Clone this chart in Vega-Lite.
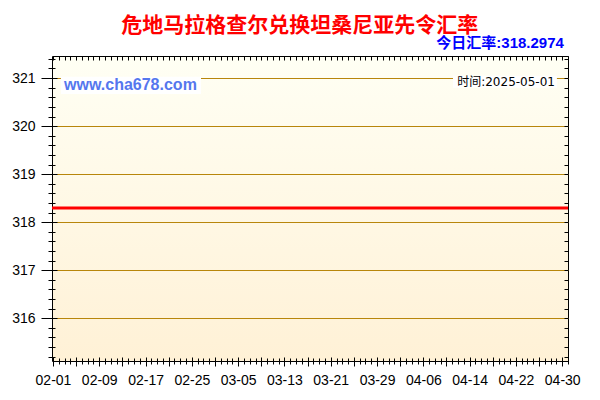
{
  "$schema": "https://vega.github.io/schema/vega-lite/v6.json",
  "width": 516,
  "height": 305,
  "autosize": {"type": "none"},
  "padding": {"left": 52, "top": 56, "right": 32, "bottom": 39},
  "background": "white",
  "data": {
    "values": [
      {"date": "2025-01-31", "rate": 318.2974},
      {"date": "2025-02-01", "rate": 318.2974},
      {"date": "2025-02-02", "rate": 318.2974},
      {"date": "2025-02-03", "rate": 318.2974},
      {"date": "2025-02-04", "rate": 318.2974},
      {"date": "2025-02-05", "rate": 318.2974},
      {"date": "2025-02-06", "rate": 318.2974},
      {"date": "2025-02-07", "rate": 318.2974},
      {"date": "2025-02-08", "rate": 318.2974},
      {"date": "2025-02-09", "rate": 318.2974},
      {"date": "2025-02-10", "rate": 318.2974},
      {"date": "2025-02-11", "rate": 318.2974},
      {"date": "2025-02-12", "rate": 318.2974},
      {"date": "2025-02-13", "rate": 318.2974},
      {"date": "2025-02-14", "rate": 318.2974},
      {"date": "2025-02-15", "rate": 318.2974},
      {"date": "2025-02-16", "rate": 318.2974},
      {"date": "2025-02-17", "rate": 318.2974},
      {"date": "2025-02-18", "rate": 318.2974},
      {"date": "2025-02-19", "rate": 318.2974},
      {"date": "2025-02-20", "rate": 318.2974},
      {"date": "2025-02-21", "rate": 318.2974},
      {"date": "2025-02-22", "rate": 318.2974},
      {"date": "2025-02-23", "rate": 318.2974},
      {"date": "2025-02-24", "rate": 318.2974},
      {"date": "2025-02-25", "rate": 318.2974},
      {"date": "2025-02-26", "rate": 318.2974},
      {"date": "2025-02-27", "rate": 318.2974},
      {"date": "2025-02-28", "rate": 318.2974},
      {"date": "2025-03-01", "rate": 318.2974},
      {"date": "2025-03-02", "rate": 318.2974},
      {"date": "2025-03-03", "rate": 318.2974},
      {"date": "2025-03-04", "rate": 318.2974},
      {"date": "2025-03-05", "rate": 318.2974},
      {"date": "2025-03-06", "rate": 318.2974},
      {"date": "2025-03-07", "rate": 318.2974},
      {"date": "2025-03-08", "rate": 318.2974},
      {"date": "2025-03-09", "rate": 318.2974},
      {"date": "2025-03-10", "rate": 318.2974},
      {"date": "2025-03-11", "rate": 318.2974},
      {"date": "2025-03-12", "rate": 318.2974},
      {"date": "2025-03-13", "rate": 318.2974},
      {"date": "2025-03-14", "rate": 318.2974},
      {"date": "2025-03-15", "rate": 318.2974},
      {"date": "2025-03-16", "rate": 318.2974},
      {"date": "2025-03-17", "rate": 318.2974},
      {"date": "2025-03-18", "rate": 318.2974},
      {"date": "2025-03-19", "rate": 318.2974},
      {"date": "2025-03-20", "rate": 318.2974},
      {"date": "2025-03-21", "rate": 318.2974},
      {"date": "2025-03-22", "rate": 318.2974},
      {"date": "2025-03-23", "rate": 318.2974},
      {"date": "2025-03-24", "rate": 318.2974},
      {"date": "2025-03-25", "rate": 318.2974},
      {"date": "2025-03-26", "rate": 318.2974},
      {"date": "2025-03-27", "rate": 318.2974},
      {"date": "2025-03-28", "rate": 318.2974},
      {"date": "2025-03-29", "rate": 318.2974},
      {"date": "2025-03-30", "rate": 318.2974},
      {"date": "2025-03-31", "rate": 318.2974},
      {"date": "2025-04-01", "rate": 318.2974},
      {"date": "2025-04-02", "rate": 318.2974},
      {"date": "2025-04-03", "rate": 318.2974},
      {"date": "2025-04-04", "rate": 318.2974},
      {"date": "2025-04-05", "rate": 318.2974},
      {"date": "2025-04-06", "rate": 318.2974},
      {"date": "2025-04-07", "rate": 318.2974},
      {"date": "2025-04-08", "rate": 318.2974},
      {"date": "2025-04-09", "rate": 318.2974},
      {"date": "2025-04-10", "rate": 318.2974},
      {"date": "2025-04-11", "rate": 318.2974},
      {"date": "2025-04-12", "rate": 318.2974},
      {"date": "2025-04-13", "rate": 318.2974},
      {"date": "2025-04-14", "rate": 318.2974},
      {"date": "2025-04-15", "rate": 318.2974},
      {"date": "2025-04-16", "rate": 318.2974},
      {"date": "2025-04-17", "rate": 318.2974},
      {"date": "2025-04-18", "rate": 318.2974},
      {"date": "2025-04-19", "rate": 318.2974},
      {"date": "2025-04-20", "rate": 318.2974},
      {"date": "2025-04-21", "rate": 318.2974},
      {"date": "2025-04-22", "rate": 318.2974},
      {"date": "2025-04-23", "rate": 318.2974},
      {"date": "2025-04-24", "rate": 318.2974},
      {"date": "2025-04-25", "rate": 318.2974},
      {"date": "2025-04-26", "rate": 318.2974},
      {"date": "2025-04-27", "rate": 318.2974},
      {"date": "2025-04-28", "rate": 318.2974},
      {"date": "2025-04-29", "rate": 318.2974},
      {"date": "2025-04-30", "rate": 318.2974},
      {"date": "2025-05-01", "rate": 318.2974}
    ]
  },
  "layer": [
    {
      "mark": {"type": "line", "strokeOpacity": 0},
      "encoding": {
        "x": {
          "field": "date", "type": "temporal",
          "scale": {"type": "utc", "domain": [1738353600000, 1746057600000], "nice": false},
          "axis": null
        },
        "y": {
          "field": "rate", "type": "quantitative",
          "scale": {"domain": [315.11, 321.46], "zero": false, "nice": false},
          "axis": {
            "orient": "left", "values": [316, 317, 318, 319, 320, 321],
            "grid": true, "gridColor": "#B8860B", "gridWidth": 1,
            "ticks": false, "labels": false, "domain": false, "title": null, "zindex": 0
          }
        }
      }
    },
    {
      "mark": {"type": "line", "color": "#FF0000", "strokeWidth": 3, "clip": true},
      "encoding": {
        "x": {
          "field": "date", "type": "temporal",
          "scale": {"type": "utc", "domain": [1738353600000, 1746057600000], "nice": false},
          "axis": {
            "orient": "bottom", "title": null, "grid": false, "domain": false,
            "values": [1738368000000, 1738713600000, 1739059200000, 1739404800000, 1739750400000, 1740096000000, 1740441600000, 1740787200000, 1741132800000, 1741478400000, 1741824000000, 1742169600000, 1742515200000, 1742860800000, 1743206400000, 1743552000000, 1743897600000, 1744243200000, 1744588800000, 1744934400000, 1745280000000, 1745625600000, 1745971200000],
            "labelExpr": "(datum.value - 1738368000000) % 691200000 === 0 ? utcFormat(datum.value, '%m-%d') : ''",
            "offset": -4, "tickSize": 9, "tickColor": "#000", "labelPadding": 7,
            "labelFont": "Liberation Sans", "labelFontSize": 14, "labelColor": "#000",
            "labelOverlap": false, "labelFlush": false, "zindex": 1
          }
        },
        "y": {
          "field": "rate", "type": "quantitative",
          "scale": {"domain": [315.11, 321.46], "zero": false, "nice": false},
          "axis": {
            "orient": "left", "title": null, "grid": false, "domain": false,
            "values": [316, 317, 318, 319, 320, 321],
            "offset": -5, "tickSize": 16, "tickColor": "#000", "labelPadding": 6,
            "labelFont": "Liberation Sans", "labelFontSize": 14, "labelColor": "#000",
            "zindex": 1
          }
        }
      }
    },
    {
      "mark": {"type": "line", "strokeOpacity": 0},
      "encoding": {
        "x": {
          "field": "date", "type": "temporal",
          "scale": {"type": "utc", "domain": [1738353600000, 1746057600000], "nice": false},
          "axis": {
            "orient": "bottom", "title": null, "grid": false, "domain": false, "labels": false,
            "tickCount": {"interval": "day", "step": 1},
            "offset": -3, "tickSize": 6, "tickColor": "#000", "zindex": 1
          }
        },
        "y": {
          "field": "rate", "type": "quantitative",
          "scale": {"domain": [315.11, 321.46], "zero": false, "nice": false},
          "axis": {
            "orient": "left", "title": null, "grid": false, "domain": false, "labels": false,
            "values": [315.2, 315.4, 315.6, 315.8, 316, 316.2, 316.4, 316.6, 316.8, 317, 317.2, 317.4, 317.6, 317.8, 318, 318.2, 318.4, 318.6, 318.8, 319, 319.2, 319.4, 319.6, 319.8, 320, 320.2, 320.4, 320.6, 320.8, 321, 321.2, 321.4],
            "offset": -3, "tickSize": 7, "tickColor": "#000", "zindex": 1
          }
        }
      }
    },
    {
      "mark": {"type": "line", "strokeOpacity": 0},
      "encoding": {
        "x": {
          "field": "date", "type": "temporal",
          "scale": {"type": "utc", "domain": [1738353600000, 1746057600000], "nice": false},
          "axis": {
            "orient": "top", "title": null, "grid": false, "domain": false, "labels": false,
            "tickCount": {"interval": "day", "step": 1},
            "offset": -4, "tickSize": 4, "tickColor": "#000", "zindex": 1
          }
        },
        "y": {
          "field": "rate", "type": "quantitative",
          "scale": {"domain": [315.11, 321.46], "zero": false, "nice": false},
          "axis": {
            "orient": "right", "title": null, "grid": false, "domain": false, "labels": false,
            "values": [315.2, 315.4, 315.6, 315.8, 316, 316.2, 316.4, 316.6, 316.8, 317, 317.2, 317.4, 317.6, 317.8, 318, 318.2, 318.4, 318.6, 318.8, 319, 319.2, 319.4, 319.6, 319.8, 320, 320.2, 320.4, 320.6, 320.8, 321, 321.2, 321.4],
            "offset": -4, "tickSize": 4, "tickColor": "#000", "zindex": 1
          }
        }
      }
    },
    {
      "data": {"values": [{}]},
      "mark": {"type": "rect", "fill": "white"},
      "encoding": {
        "x": {"datum": {"year": 2025, "month": 2, "date": 2, "hours": 9, "utc": true}, "type": "temporal", "axis": null},
        "x2": {"datum": {"year": 2025, "month": 2, "date": 26, "hours": 14, "utc": true}},
        "y": {"datum": 321.03, "type": "quantitative", "axis": null},
        "y2": {"datum": 320.67}
      }
    },
    {
      "data": {"values": [{}]},
      "mark": {"type": "rect", "fill": "white"},
      "encoding": {
        "x": {"datum": {"year": 2025, "month": 4, "date": 11, "hours": 3, "utc": true}, "type": "temporal", "axis": null},
        "x2": {"datum": {"year": 2025, "month": 4, "date": 29, "hours": 2, "utc": true}},
        "y": {"datum": 321.05, "type": "quantitative", "axis": null},
        "y2": {"datum": 320.8}
      }
    },
    {
      "data": {"values": [{}]},
      "mark": {"type": "text", "text": "www.cha678.com", "font": "Liberation Sans", "fontSize": 16, "fontWeight": "bold", "color": "#5577EE", "align": "left", "baseline": "alphabetic"},
      "encoding": {
        "x": {"datum": {"year": 2025, "month": 2, "date": 2, "hours": 22, "utc": true}, "type": "temporal", "axis": null},
        "y": {"datum": 320.756, "type": "quantitative", "axis": null}
      }
    },
    {
      "data": {"values": [{}]},
      "mark": {"type": "text", "text": "时间:2025-05-01", "font": "DejaVu Sans, Noto Sans CJK SC", "fontSize": 12, "color": "#000", "align": "right", "baseline": "alphabetic"},
      "encoding": {
        "x": {"datum": {"year": 2025, "month": 4, "date": 28, "hours": 18, "utc": true}, "type": "temporal", "axis": null},
        "y": {"datum": 320.84, "type": "quantitative", "axis": null}
      }
    },
    {
      "data": {"values": [{}]},
      "mark": {"type": "text", "text": "今日汇率:318.2974", "font": "Liberation Sans, Noto Sans CJK SC", "fontSize": 15, "fontWeight": "bold", "color": "#0000FF", "align": "right", "baseline": "alphabetic"},
      "encoding": {
        "x": {"datum": {"year": 2025, "month": 4, "date": 30, "hours": 7, "utc": true}, "type": "temporal", "axis": null},
        "y": {"datum": 321.63, "type": "quantitative", "axis": null}
      }
    },
    {
      "data": {"values": [{}]},
      "mark": {"type": "text", "text": "危地马拉格查尔兑换坦桑尼亚先令汇率", "font": "Noto Sans CJK SC", "fontSize": 21, "fontWeight": "bold", "color": "#FF0000", "align": "center", "baseline": "alphabetic"},
      "encoding": {
        "x": {"datum": {"year": 2025, "month": 3, "date": 15, "hours": 16, "utc": true}, "type": "temporal", "axis": null},
        "y": {"datum": 321.965, "type": "quantitative", "axis": null}
      }
    }
  ],
  "resolve": {"axis": {"x": "independent", "y": "independent"}},
  "config": {
    "view": {
      "stroke": "#000",
      "strokeWidth": 1,
      "fill": {
        "gradient": "linear", "x1": 0, "y1": 0, "x2": 0, "y2": 1,
        "stops": [{"offset": 0, "color": "#FFFFF4"}, {"offset": 1, "color": "#FFF1D6"}]
      }
    }
  }
}
